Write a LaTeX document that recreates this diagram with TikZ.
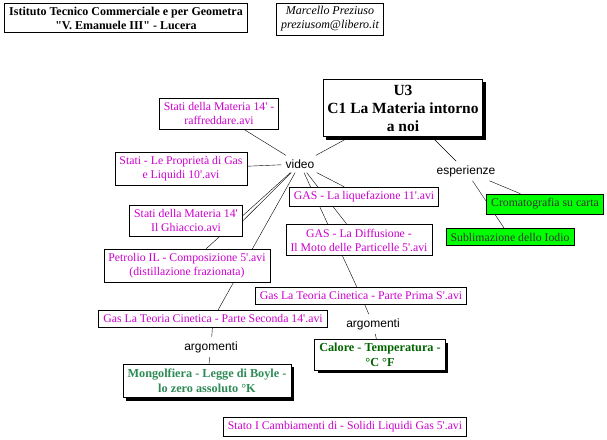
\documentclass[tikz,border=0pt]{standalone}
\usepackage{fontspec}
\setmainfont{Liberation Serif}
\setsansfont{Liberation Sans}
\usetikzlibrary{shadows,backgrounds}
\definecolor{viola}{RGB}{204,0,204}
\definecolor{verdescuro}{RGB}{0,100,0}
\definecolor{verdemare}{RGB}{46,139,87}
\definecolor{verdechiaro}{RGB}{0,255,0}
\newcommand{\ap}{\textquotesingle}
\tikzset{
  concetto/.style={draw, fill=white, align=center, line width=0.8pt, inner xsep=4.5pt, inner ysep=4.5pt,
    font=\fontsize{11.75}{14}\selectfont, text=viola},
  ombra/.style={drop shadow={shadow xshift=3pt, shadow yshift=-3pt, fill=black, opacity=1}},
  frase/.style={font=\sffamily\fontsize{12}{14}\selectfont, inner sep=4pt},
  esperimento/.style={concetto, fill=verdechiaro, text=black!80},
  legame/.style={line width=0.8pt},
}
\begin{document}
\begin{tikzpicture}[x=1pt,y=-1pt]
	\useasboundingbox (0,0) rectangle (607,439);
	% intestazione
	\node[concetto, text=black, font=\bfseries\fontsize{12}{14}\selectfont, inner ysep=3pt] (scuola) at (126,18)
	  {Istituto Tecnico Commerciale e per Geometra\\\textquotedbl V. Emanuele III\textquotedbl{} - Lucera};
	\node[concetto, text=black, font=\itshape\fontsize{12}{14}\selectfont, inner ysep=3.5pt] (autore) at (330,19)
	  {Marcello Preziuso\\preziusom@libero.it};
	% concetto principale
	\node[concetto, ombra, text=black, font=\bfseries\fontsize{15.5}{18}\selectfont, inner xsep=4pt, inner ysep=5.5pt] (materia) at (403,108)
	  {U3\\C1 La Materia intorno\\a noi};
	\node[frase] (video) at (300,164) {video};
	\node[frase] (esperienze) at (466,171) {esperienze};
	% video
	\node[concetto] (raffreddare) at (219,114) {Stati della Materia 14\ap{} -\\raffreddare.avi};
	\node[concetto] (proprieta) at (181,169) {Stati - Le Propriet\`a di Gas\\e Liquidi 10\ap.avi};
	\node[concetto] (ghiaccio) at (186,221) {Stati della Materia 14\ap\\Il Ghiaccio.avi};
	\node[concetto] (petrolio) at (187,266) {Petrolio IL - Composizione 5\ap.avi\\(distillazione frazionata)};
	\node[concetto] (seconda) at (213,319) {Gas La Teoria Cinetica - Parte Seconda 14\ap.avi};
	\node[concetto] (liquefazione) at (364,197) {GAS - La liquefazione 11\ap.avi};
	\node[concetto] (diffusione) at (359,240) {GAS - La Diffusione -\\Il Moto delle Particelle 5\ap.avi};
	\node[concetto] (prima) at (361,296) {Gas La Teoria Cinetica - Parte Prima S\ap.avi};
	\node[concetto] (cambiamenti) at (345,427) {Stato I Cambiamenti di - Solidi Liquidi Gas 5\ap.avi};
	% argomenti
	\node[frase] (argsec) at (211,347) {argomenti};
	\node[frase] (argpri) at (373,324) {argomenti};
	\node[concetto, ombra, text=verdemare, font=\bfseries\fontsize{12.25}{15}\selectfont, inner ysep=5pt] (boyle) at (207,381)
	  {Mongolfiera - Legge di Boyle -\\lo zero assoluto \textdegree K};
	\node[concetto, ombra, text=verdescuro, font=\bfseries\fontsize{12.25}{15}\selectfont, inner ysep=3.5pt] (calore) at (380,355)
	  {Calore - Temperatura -\\\textdegree C \textdegree F};
	% esperienze
	\node[esperimento] (cromatografia) at (545,204) {Cromatografia su carta};
	\node[esperimento] (iodio) at (510,237) {Sublimazione dello Iodio};
	% collegamenti
	\begin{scope}[on background layer, legame]
	  \draw (materia) -- (video);
	  \draw (materia) -- (esperienze);
	  \foreach \n in {raffreddare,proprieta,petrolio,seconda,liquefazione,diffusione,prima}
	    \draw (video) -- (\n);
	  \draw (video) -- (ghiaccio.east);
	  \draw (esperienze) -- (cromatografia);
	  \draw (esperienze) -- (iodio);
	  \draw (seconda) -- (argsec) -- (boyle);
	  \draw (prima) -- (argpri) -- (calore);
	\end{scope}
\end{tikzpicture}
\end{document}
